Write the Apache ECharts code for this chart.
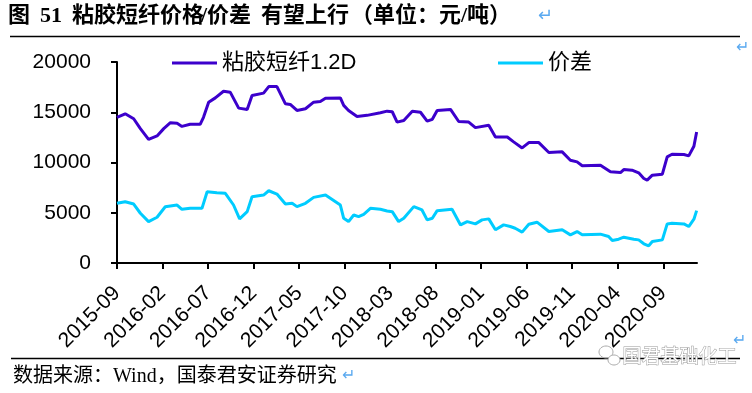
<!DOCTYPE html>
<html>
<head>
<meta charset="utf-8">
<script src="https://cdn.jsdelivr.net/npm/echarts@6/dist/echarts.min.js"></script>
<style>
html,body{margin:0;padding:0;background:#fff;}
#c{width:752px;height:393px;}
</style>
</head>
<body>
<div id="c"></div>
<script>
// ---- data ----
const seriesNames = ['粘胶短纤1.2D', '价差'];
const xTickLabels = ['2015-09','2016-02','2016-07','2016-12','2017-05','2017-10','2018-03','2018-08','2019-01','2019-06','2019-11','2020-04','2020-09'];
const yTicks = [0, 5000, 10000, 15000, 20000];

const viscoseDates = ['2015-09-01','2015-09-28','2015-10-26','2015-11-18','2015-12-15','2016-01-13','2016-02-05','2016-02-27','2016-03-19','2016-04-05','2016-05-02','2016-06-05','2016-06-16','2016-07-03','2016-07-25','2016-08-22','2016-09-14','2016-10-12','2016-11-10','2016-11-26','2017-01-04','2017-01-21','2017-02-18','2017-03-16','2017-04-02','2017-04-24','2017-05-22','2017-06-19','2017-07-11','2017-07-28','2017-09-17','2017-09-28','2017-10-14','2017-11-12','2017-12-15','2018-01-29','2018-02-21','2018-03-08','2018-03-24','2018-04-16','2018-05-14','2018-06-11','2018-07-03','2018-07-20','2018-08-06','2018-09-20','2018-10-17','2018-11-20','2018-12-12','2019-01-26','2019-02-18','2019-03-27','2019-04-18','2019-05-16','2019-06-08','2019-07-11','2019-08-14','2019-09-28','2019-10-25','2019-11-17','2019-12-04','2020-02-04','2020-03-07','2020-04-10','2020-04-21','2020-05-18','2020-06-10','2020-06-27','2020-07-08','2020-07-25','2020-08-28','2020-09-14','2020-09-30','2020-11-09','2020-11-25','2020-12-12','2020-12-21'];
const viscoseValues = [14500,14850,14350,13370,12300,12640,13370,13960,13900,13590,13800,13800,14500,16000,16430,17090,17000,15410,15280,16660,16900,17550,17550,15840,15780,15180,15350,16000,16060,16390,16430,15680,15180,14580,14690,14950,15110,15050,14020,14180,15110,15000,14110,14300,15180,15280,14080,14020,13470,13700,12540,12540,12050,11450,11980,11980,10990,11060,10230,10060,9670,9730,9070,9000,9300,9240,8970,8410,8250,8740,8840,10560,10820,10790,10660,11620,13030];

const spreadDates = ['2015-09-01','2015-09-28','2015-10-26','2015-11-18','2015-12-15','2016-01-13','2016-02-10','2016-03-19','2016-04-05','2016-05-02','2016-06-11','2016-06-28','2016-07-30','2016-08-28','2016-09-25','2016-10-15','2016-11-10','2016-11-26','2017-01-04','2017-01-21','2017-02-18','2017-03-16','2017-04-08','2017-04-24','2017-05-22','2017-06-19','2017-07-28','2017-09-17','2017-09-28','2017-10-14','2017-11-01','2017-11-17','2017-12-04','2017-12-26','2018-01-29','2018-02-21','2018-03-08','2018-03-29','2018-04-16','2018-05-19','2018-06-16','2018-07-03','2018-07-20','2018-08-06','2018-09-25','2018-10-23','2018-11-15','2018-12-12','2019-01-04','2019-01-26','2019-02-18','2019-03-15','2019-04-07','2019-04-23','2019-05-16','2019-06-08','2019-07-05','2019-08-14','2019-09-28','2019-10-25','2019-11-17','2019-12-04','2020-02-04','2020-03-01','2020-03-13','2020-04-04','2020-04-21','2020-05-24','2020-06-10','2020-06-27','2020-07-13','2020-07-25','2020-08-28','2020-09-14','2020-09-30','2020-11-09','2020-11-25','2020-12-12','2020-12-21'];
const spreadValues = [5940,6100,5870,4950,4120,4550,5600,5770,5340,5440,5440,7090,6990,6930,5770,4390,5110,6600,6760,7190,6860,5870,5940,5610,5940,6530,6760,5770,4450,4120,4780,4620,4850,5440,5340,5180,5110,4120,4450,5610,5280,4290,4450,5210,5340,3790,4120,3890,4290,4390,3300,3790,3630,3460,3070,3860,4060,3130,3300,2800,3130,2800,2870,2640,2240,2370,2570,2370,2300,1910,1710,2140,2300,3890,3960,3890,3630,4360,5210];

const titleParts = ['图', '51', '粘胶短纤价格', '/价差', '有望上行', '（单位：元/吨）'];
const sourceText = '数据来源：Wind，国泰君安证券研究';
const watermarkText = '国君基础化工';

// ---- helpers ----
function monthIndex(s) {
  const [y, m, d] = s.split('-').map(Number);
  return (y - 2015) * 12 + (m - 9) + (d - 1) / 30;
}
function labelToIndex(s) { return monthIndex(s + '-01'); }
function indexToLabel(i) {
  const t = Math.round(i) + 8;
  const y = 2015 + Math.floor(t / 12);
  const m = (t % 12) + 1;
  return y + '-' + (m < 10 ? '0' + m : m);
}
const xTickValues = xTickLabels.map(labelToIndex);
const pair = (dates, vals) => dates.map((d, i) => [monthIndex(d), vals[i]]);

const SANS = "'Liberation Sans', Arial, 'Noto Sans CJK SC', sans-serif";
const SERIF = "'Liberation Serif', 'Times New Roman', 'Noto Sans CJK SC', serif";
const PURPLE = '#3C00CC';
const CYAN = '#00CCFF';
const ARROW = '#5AA9F0';

const chart = echarts.init(document.getElementById('c'), null, {renderer: 'canvas'});
const titleLefts = [8, 40, 72, 201, 261, 351];
chart.setOption({
  backgroundColor: '#fff',
  animation: false,
  title: titleParts.map((t, i) => ({
    text: t, left: titleLefts[i], top: 5, padding: 0,
    textStyle: {fontSize: 22, fontWeight: 'bold', color: '#000', fontFamily: SERIF}
  })),
  legend: [
    {data: [seriesNames[0]], left: 172, top: 52, padding: 0, icon: 'rect', itemWidth: 45, itemHeight: 3,
     textStyle: {fontSize: 22, color: '#000', fontFamily: SANS}},
    {data: [seriesNames[1]], left: 498, top: 52, padding: 0, icon: 'rect', itemWidth: 45, itemHeight: 3,
     textStyle: {fontSize: 22, color: '#000', fontFamily: SANS}}
  ],
  grid: {left: 117, right: 55, top: 62, bottom: 130, containLabel: false, outerBoundsMode: 'none'},
  xAxis: {
    type: 'value', min: xTickValues[0], max: monthIndex(viscoseDates[viscoseDates.length - 1]) + 0.04,
    interval: 5,
    splitLine: {show: false},
    axisLine: {lineStyle: {color: '#000', width: 2}},
    axisTick: {show: true, length: 6, inside: false, lineStyle: {color: '#000', width: 2}, customValues: xTickValues},
    axisLabel: {customValues: xTickValues, formatter: v => indexToLabel(v), rotate: 45, margin: 27,
      fontSize: 21, color: '#000', fontFamily: SANS}
  },
  yAxis: {
    type: 'value', min: yTicks[0], max: yTicks[yTicks.length - 1], interval: 5000,
    splitLine: {show: false},
    axisLine: {show: true, lineStyle: {color: '#000', width: 2}},
    axisTick: {show: true, length: 6, lineStyle: {color: '#000', width: 2}},
    axisLabel: {margin: 26, fontSize: 21, color: '#000', fontFamily: SANS, formatter: v => String(v)}
  },
  series: [
    {name: seriesNames[0], type: 'line', data: pair(viscoseDates, viscoseValues), symbol: 'none',
     lineStyle: {color: PURPLE, width: 3}, itemStyle: {color: PURPLE}},
    {name: seriesNames[1], type: 'line', data: pair(spreadDates, spreadValues), symbol: 'none',
     lineStyle: {color: CYAN, width: 3}, itemStyle: {color: CYAN}}
  ],
  graphic: [
    {type: 'line', shape: {x1: 10, y1: 36.5, x2: 740, y2: 36.5}, style: {stroke: '#000', lineWidth: 1.5}},
    {type: 'line', shape: {x1: 11, y1: 358.5, x2: 740, y2: 358.5}, style: {stroke: '#000', lineWidth: 1.5}},
    {type: 'text', left: 538, top: 7, style: {text: '↵', fontSize: 18, fill: ARROW, fontFamily: SANS}},
    {type: 'text', left: 736, top: 40, style: {text: '↵', fontSize: 16, fill: ARROW, fontFamily: SANS}},
    {type: 'text', left: 733, top: 333, style: {text: '↵', fontSize: 16, fill: ARROW, fontFamily: SANS}},
    {type: 'text', left: 342, top: 368, style: {text: '↵', fontSize: 16, fill: ARROW, fontFamily: SANS}},
    {type: 'text', left: 13, top: 367, style: {text: sourceText, fontSize: 20, fill: '#000', fontFamily: SERIF}},
    {type: 'ellipse', shape: {cx: 606, cy: 352, rx: 7, ry: 6}, style: {fill: 'none', stroke: '#aaa', lineWidth: 1}},
    {type: 'ellipse', shape: {cx: 614, cy: 360, rx: 6, ry: 5}, style: {fill: '#fff', stroke: '#aaa', lineWidth: 1}},
    {type: 'text', left: 622, top: 348, style: {text: watermarkText, fontSize: 19, fill: '#fff', stroke: '#999', lineWidth: 1, fontFamily: SANS}}
  ]
});
</script>
</body>
</html>
